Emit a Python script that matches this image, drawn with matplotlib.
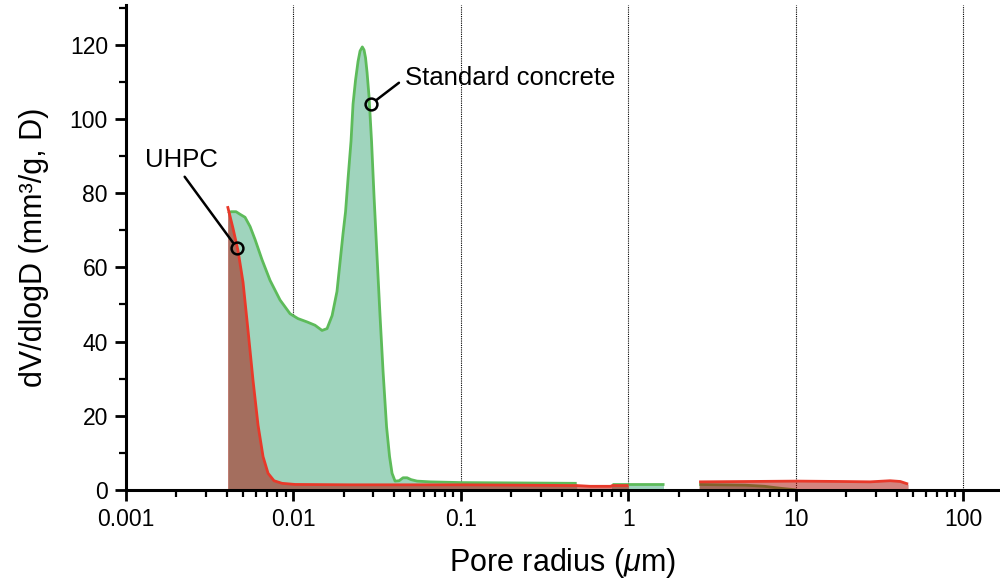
import matplotlib
matplotlib.use("Agg")
import matplotlib.pyplot as plt
from matplotlib.ticker import LogLocator, FixedLocator, MultipleLocator, FixedFormatter

plt.rcParams['font.family'] = ['Liberation Sans', 'DejaVu Sans']
plt.rcParams['mathtext.fontset'] = 'custom'
plt.rcParams['mathtext.it'] = 'Liberation Sans:italic'
plt.rcParams['mathtext.rm'] = 'Liberation Sans'

# ---- data: Standard concrete (three measured segments) ----
std_x1 = [0.00407, 0.00424, 0.00454, 0.0048, 0.00514, 0.00551, 0.0059, 0.0065, 0.00725,
          0.00832, 0.00955, 0.01064, 0.01205, 0.01346, 0.01482, 0.01588, 0.01702, 0.0182,
          0.01977, 0.02048, 0.0212, 0.02208, 0.0227, 0.0235, 0.02432, 0.025, 0.02579,
          0.0264, 0.02695, 0.02753, 0.02829, 0.02928, 0.03031, 0.03157, 0.0329, 0.0343,
          0.036, 0.03751, 0.03882, 0.04046, 0.04275, 0.04516, 0.04772, 0.05042, 0.05475,
          0.06546, 0.1003, 0.2257, 0.4918]
std_y1 = [74.5, 75.0, 75.0, 74.3, 73.5, 71.0, 67.5, 62.0, 56.5,
          51.2, 47.5, 46.2, 45.3, 44.4, 43.0, 43.5, 47.0, 53.5,
          69.0, 75.0, 84.0, 94.0, 104.0, 110.5, 115.5, 118.3, 119.4,
          118.6, 116.5, 112.5, 106.0, 94.0, 79.0, 63.0, 47.0, 32.0,
          17.0, 9.0, 4.5, 2.4, 2.5, 3.3, 3.3, 2.8, 2.4,
          2.2, 2.0, 1.9, 1.8]
std_x2 = [0.8, 1.0, 1.64]
std_y2 = [1.6, 1.6, 1.6]
std_x3 = [2.65, 3.5, 5.0, 6.5, 8.0, 10.0]
std_y3 = [1.5, 1.4, 1.3, 1.0, 0.5, 0.05]

# ---- data: UHPC (two measured segments) ----
uhpc_x1 = [0.00404, 0.004357, 0.004667, 0.005, 0.005356, 0.005738, 0.006146, 0.006585,
           0.007055, 0.007656, 0.008549, 0.01022, 0.02178, 0.1003, 0.4918, 0.5912,
           0.789, 0.8, 1.004]
uhpc_y1 = [76.5, 70.5, 64.5, 56.0, 43.0, 29.5, 17.5, 9.0,
           4.5, 2.5, 1.8, 1.5, 1.4, 1.4, 1.2, 1.0,
           1.0, 1.2, 1.2]
uhpc_x2 = [2.648, 5.34, 10.2, 18.4, 27.8, 36.6, 42.1, 46.9]
uhpc_y2 = [2.2, 2.3, 2.4, 2.3, 2.2, 2.5, 2.3, 1.6]

x_ticks = [0.001, 0.01, 0.1, 1, 10, 100]
x_tick_labels = ['0.001', '0.01', '0.1', '1', '10', '100']
y_ticks = [0, 20, 40, 60, 80, 100, 120]

std_point = (0.0291, 104)
uhpc_point = (0.0046, 65.2)

green_line = '#5dbb5a'
green_fill = '#9fd4bd'
red_line = '#e8392a'
red_fill = '#aa0a00'

fig = plt.figure(figsize=(10, 5.81), dpi=100)
ax = fig.add_axes([0.126, 0.1566, 0.874, 0.8348])
ax.set_xscale('log')

for xs, ys in [(std_x1, std_y1), (std_x2, std_y2), (std_x3, std_y3)]:
    ax.fill_between(xs, 0, ys, color=green_fill, lw=0, zorder=2)
    ax.plot(xs, ys, color=green_line, lw=2, zorder=3, solid_capstyle='butt', solid_joinstyle='round')
for xs, ys in [(uhpc_x1, uhpc_y1), (uhpc_x2, uhpc_y2)]:
    ax.fill_between(xs, 0, ys, color=red_fill, alpha=0.5, lw=0, zorder=4)
    ax.plot(xs, ys, color=red_line, lw=2, zorder=5, solid_capstyle='butt', solid_joinstyle='round')

ax.set_xlim(0.001, 166)
ax.set_ylim(0, 130.7)

ax.xaxis.set_major_locator(FixedLocator(x_ticks))
ax.xaxis.set_major_formatter(FixedFormatter(x_tick_labels))
ax.xaxis.set_minor_locator(LogLocator(base=10, subs=range(2, 10), numticks=20))
ax.yaxis.set_major_locator(FixedLocator(y_ticks))
ax.yaxis.set_minor_locator(MultipleLocator(10))

ax.grid(True, which='major', axis='x', color='black', linestyle=(0, (1, 1)), lw=0.8, zorder=1)

for s in ['top', 'right']:
    ax.spines[s].set_visible(False)
for s in ['left', 'bottom']:
    ax.spines[s].set_linewidth(2.2)
    ax.spines[s].set_zorder(6)

ax.tick_params(which='major', length=8, width=2, labelsize=16.5, direction='out', pad=5)
ax.tick_params(which='minor', length=5, width=1.6, direction='out')

ax.set_xlabel('Pore radius ($\\mathit{\\mu}$m)', fontsize=22, labelpad=11)
ax.set_ylabel('dV/dlogD (mm³/g, D)', fontsize=22, labelpad=15)

# annotations
ax.annotate('Standard concrete', xy=std_point, xytext=(0.0464, 111),
            fontsize=18.5, va='center', ha='left',
            arrowprops=dict(arrowstyle='-', color='black', lw=1.8, relpos=(0, 0.5),
                            shrinkA=3, shrinkB=4.8), zorder=7)
ax.plot(*std_point, 'o', mfc='none', mec='black', ms=8.5, mew=1.8, zorder=7)
ax.annotate('UHPC', xy=uhpc_point, xytext=(0.00213, 89),
            fontsize=18.5, va='center', ha='center',
            arrowprops=dict(arrowstyle='-', color='black', lw=1.8, relpos=(0.5, 0),
                            shrinkA=2, shrinkB=4.8), zorder=7)
ax.plot(*uhpc_point, 'o', mfc='none', mec='black', ms=8.5, mew=1.8, zorder=7)

fig.savefig('out.png', dpi=100)
